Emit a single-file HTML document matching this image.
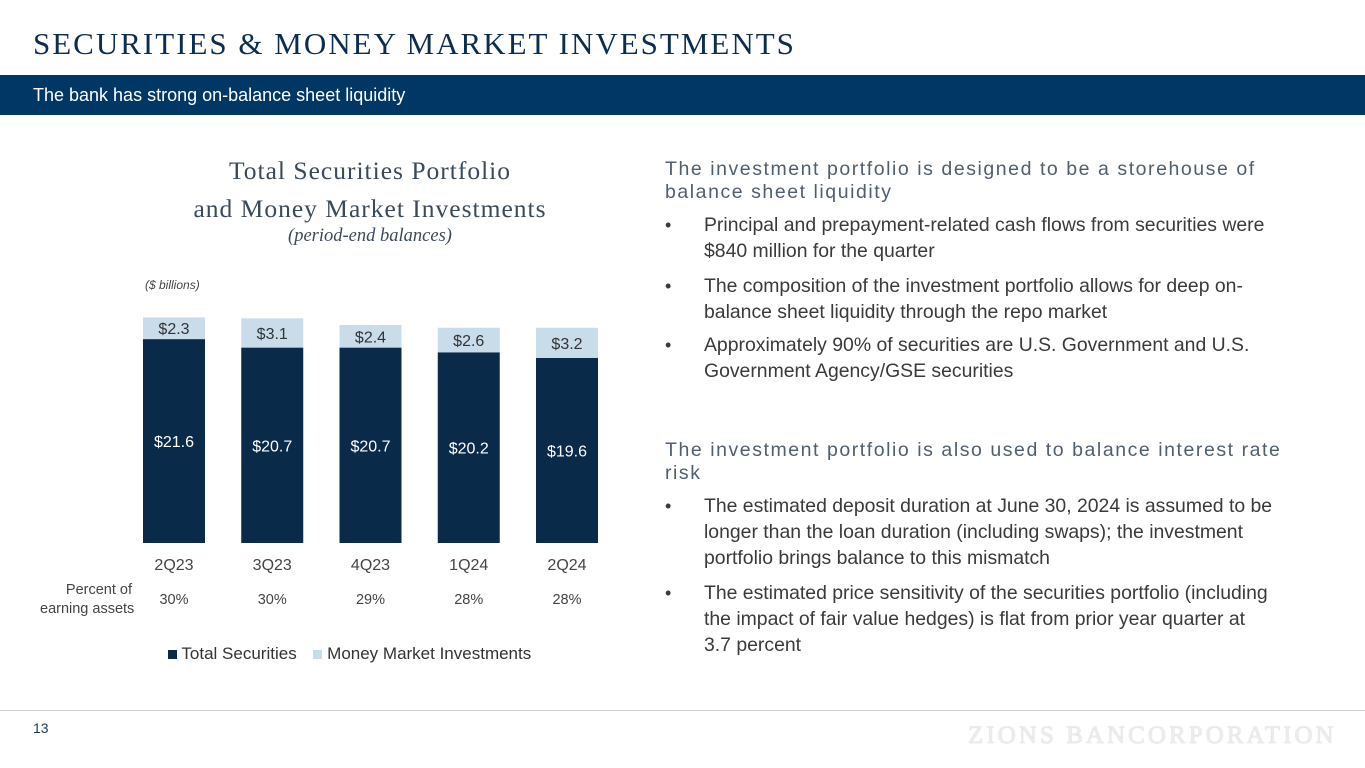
<!DOCTYPE html>
<html><head><meta charset="utf-8"><style>
body{margin:0;width:1365px;height:768px;position:relative;background:#fff;font-family:"Liberation Sans",sans-serif;overflow:hidden}
.a{position:absolute;white-space:nowrap}
.h{color:#505f6e;font-size:19.5px;letter-spacing:1.55px;line-height:23px}
.b{color:#3a3a3a;font-size:19.4px;line-height:26px}
.bl{position:absolute;left:665px;color:#3a3a3a;font-size:18px}
</style></head><body>
<div class="a" style="left:33px;top:26px;font-family:'Liberation Serif',serif;font-size:31px;color:#0b2d4f;letter-spacing:2px">SECURITIES &amp; MONEY MARKET INVESTMENTS</div>
<div class="a" style="left:0;top:75px;width:1365px;height:40px;background:#003764"></div>
<div class="a" style="left:33px;top:85px;font-size:18px;color:#fff">The bank has strong on-balance sheet liquidity</div>

<div class="a" style="left:100px;top:152px;width:540px;text-align:center;font-family:'Liberation Serif',serif;font-size:25.5px;letter-spacing:1px;color:#3a4a5a;line-height:38px">Total Securities Portfolio<br>and Money Market Investments</div>
<div class="a" style="left:140px;top:226px;width:460px;text-align:center;font-family:'Liberation Serif',serif;font-style:italic;font-size:18.5px;color:#3a4a5a">(period-end balances)</div>
<div class="a" style="left:145px;top:278px;font-size:12px;font-style:italic;color:#444">($ billions)</div>

<svg id="chart" class="a" style="left:0;top:0" width="640" height="680"></svg>

<div class="a" style="left:40px;top:581px;width:92px;text-align:right;font-size:14.5px;color:#444;line-height:19px">Percent of<br>earning assets</div>

<div class="a" style="left:168px;top:644px;font-size:17px;color:#333">
<span><span style="display:inline-block;width:9px;height:9px;background:#0a2a4a"></span> Total Securities</span>
<span style="margin-left:12px"><span style="display:inline-block;width:9px;height:9px;background:#c9dcea"></span> Money Market Investments</span></div>

<div class="a h" style="left:665px;top:158px">The investment portfolio is designed to be a storehouse of<br>balance sheet liquidity</div>
<div class="a" style="left:0;top:0">
<div class="bl" style="top:215px">•</div><div class="a b" style="left:704px;top:212px">Principal and prepayment-related cash flows from securities were<br>$840 million for the quarter</div>
<div class="bl" style="top:276px">•</div><div class="a b" style="left:704px;top:273px">The composition of the investment portfolio allows for deep on-<br>balance sheet liquidity through the repo market</div>
<div class="bl" style="top:335px">•</div><div class="a b" style="left:704px;top:332px">Approximately 90% of securities are U.S. Government and U.S.<br>Government Agency/GSE securities</div>
</div>
<div class="a h" style="left:665px;top:439px">The investment portfolio is also used to balance interest rate<br>risk</div>
<div class="a" style="left:0;top:0">
<div class="bl" style="top:496px">•</div><div class="a b" style="left:704px;top:493px">The estimated deposit duration at June 30, 2024 is assumed to be<br>longer than the loan duration (including swaps); the investment<br>portfolio brings balance to this mismatch</div>
<div class="bl" style="top:583px">•</div><div class="a b" style="left:704px;top:580px">The estimated price sensitivity of the securities portfolio (including<br>the impact of fair value hedges) is flat from prior year quarter at<br>3.7 percent</div>
</div>

<div class="a" style="left:0;top:710px;width:1365px;height:1px;background:#ccc"></div>
<div class="a" style="left:33px;top:720px;font-size:14px;color:#1a3a5a">13</div>
<div class="a" style="left:968px;top:722px;font-family:'Liberation Serif',serif;font-size:25px;color:#ececec;letter-spacing:3.05px;text-shadow:0 0 1px #bbb">ZIONS BANCORPORATION</div>

<script>
const categories=["2Q23","3Q23","4Q23","1Q24","2Q24"];
const totalSecurities=[21.6,20.7,20.7,20.2,19.6];
const moneyMarket=[2.3,3.1,2.4,2.6,3.2];
const pctEarning=["30%","30%","29%","28%","28%"];
const svg=document.getElementById('chart');
const NS="http://www.w3.org/2000/svg";
const base=543, scale=9.44, x0=143, step=98.25, bw=62;
const y=v=>base-v*scale;
const xPos=i=>x0+i*step;
function mk(tag,attrs,txt){const e=document.createElementNS(NS,tag);for(const k in attrs)e.setAttribute(k,attrs[k]);if(txt!==undefined)e.textContent=txt;svg.appendChild(e);return e;}
categories.forEach((c,i)=>{
  const t=totalSecurities[i],m=moneyMarket[i],x=xPos(i);
  const r1=mk('rect',{x:x,y:y(t),width:bw,height:t*scale,fill:'#0a2a4a'});
  
  
  const r2=mk('rect',{x:x,y:y(t+m),width:bw,height:m*scale,fill:'#c9dcea'});
  
  
  const l1=mk('text',{x:x+bw/2,y:y(t/2)+6,'text-anchor':'middle','font-size':16,fill:'#fff'},'$'+t.toFixed(1));
  
  
  const l2=mk('text',{x:x+bw/2,y:y(t+m/2)+6,'text-anchor':'middle','font-size':16,fill:'#333'},'$'+m.toFixed(1));
  
  
  const xl=mk('text',{x:x+bw/2,y:570,'text-anchor':'middle','font-size':16,fill:'#444'},c);
  
  
  const p=mk('text',{x:x+bw/2,y:604,'text-anchor':'middle','font-size':14.5,fill:'#444'},pctEarning[i]);
  
  
});
</script>
</body></html>
